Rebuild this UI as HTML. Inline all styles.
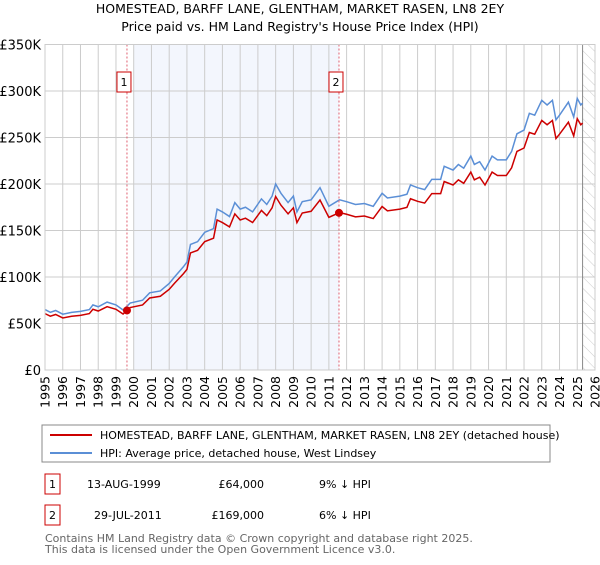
<!DOCTYPE html>
<html><head><meta charset="utf-8"><style>
body{margin:0;background:#fff;font-family:"Liberation Sans","DejaVu Sans",sans-serif;}
svg text{font-family:"DejaVu Sans","Liberation Sans",sans-serif;}
</style></head><body>
<svg id="c" width="600" height="560" viewBox="0 0 600 560">
<defs><pattern id="hatch" width="8" height="8" patternUnits="userSpaceOnUse" patternTransform="rotate(-45)"><line x1="0" y1="0" x2="0" y2="8" stroke="#ccc" stroke-width="1"/></pattern></defs>
<text x="300" y="13" text-anchor="middle" font-size="12.5">HOMESTEAD, BARFF LANE, GLENTHAM, MARKET RASEN, LN8 2EY</text>
<text x="300" y="31" text-anchor="middle" font-size="12.5">Price paid vs. HM Land Registry's House Price Index (HPI)</text>
<g id="plot"></g>
<rect x="42" y="425" width="508" height="37" fill="#fff" stroke="#888"/>
<line x1="50" y1="435" x2="92" y2="435" stroke="#cc0000" stroke-width="2"/>
<text x="100" y="439" font-size="11">HOMESTEAD, BARFF LANE, GLENTHAM, MARKET RASEN, LN8 2EY (detached house)</text>
<line x1="50" y1="453" x2="92" y2="453" stroke="#5b8fd6" stroke-width="2"/>
<text x="100" y="457" font-size="11">HPI: Average price, detached house, West Lindsey</text>
<g>
<rect x="45" y="474" width="15" height="20" fill="#fff" stroke="#cc0000"/>
<text x="52.5" y="488" text-anchor="middle" font-size="11">1</text>
<text x="87" y="488" font-size="11">13-AUG-1999</text>
<text x="264" y="488" text-anchor="end" font-size="11">£64,000</text>
<text x="319" y="488" font-size="11">9% ↓ HPI</text></g>
<g>
<rect x="45" y="505" width="15" height="20" fill="#fff" stroke="#cc0000"/>
<text x="52.5" y="519" text-anchor="middle" font-size="11">2</text>
<text x="94" y="519" font-size="11">29-JUL-2011</text>
<text x="264" y="519" text-anchor="end" font-size="11">£169,000</text>
<text x="319" y="519" font-size="11">6% ↓ HPI</text></g>
<text x="45" y="542" font-size="11" fill="#666">Contains HM Land Registry data © Crown copyright and database right 2025.</text>
<text x="45" y="553" font-size="11" fill="#666">This data is licensed under the Open Government Licence v3.0.</text>
</svg>
<script>
const hpiYears=[1995.0,1995.3,1995.6,1996.0,1996.5,1997.0,1997.5,1997.7,1998.0,1998.5,1999.0,1999.4,1999.8,2000.5,2000.9,2001.5,2002.0,2002.3,2002.8,2003.0,2003.2,2003.6,2004.0,2004.5,2004.7,2005.0,2005.4,2005.7,2006.0,2006.3,2006.7,2007.2,2007.5,2007.8,2008.0,2008.3,2008.7,2009.0,2009.2,2009.5,2010.0,2010.5,2011.0,2011.6,2012.0,2012.5,2013.0,2013.5,2014.0,2014.3,2015.0,2015.4,2015.6,2016.0,2016.4,2016.8,2017.3,2017.5,2018.0,2018.3,2018.6,2019.0,2019.2,2019.5,2019.8,2020.2,2020.5,2021.0,2021.3,2021.6,2022.0,2022.3,2022.6,2023.0,2023.3,2023.6,2023.8,2024.0,2024.5,2024.8,2025.0,2025.2,2025.3];
const hpiValues=[65,62,64,60,62,63,65,70,68,73,70,64.5,72,75,83,85,93,100,111,116,135,138,148,152,173,170,165,180,173,175,170,184,178,187,200,190,180,187,170,181,183,196,176,183,181,178,179,176,190,185,187,189,199,196,194,205,205,219,215,221,217,230,221,224,215,230,226,226,235,254,258,276,274,290,285,290,269,274,288,272,292,285,287];
const saleYears=[1999.62,2011.57];
const salePrices=[64,169];
const saleLabels=["1","2"];
const yTicks=[0,50,100,150,200,250,300,350];
const yTickLabels=["£0","£50K","£100K","£150K","£200K","£250K","£300K","£350K"];
const xTicks=[];for(let y=1995;y<=2026;y++)xTicks.push(y);

const X0=45,X1=595,Y0=370,Y1=44.5,NS="http://www.w3.org/2000/svg";
const xs=t=>X0+(t-1995)/(2026-1995)*(X1-X0);
const ys=v=>Y0-v/350*(Y0-Y1);
const g=document.getElementById('plot');
function mk(tag,attrs,parent){const e=document.createElementNS(NS,tag);for(const k in attrs)e.setAttribute(k,attrs[k]);(parent||g).appendChild(e);return e;}
function hpiAt(t){for(let i=1;i<hpiYears.length;i++){if(t<=hpiYears[i]){const a=hpiYears[i-1],b=hpiYears[i];return hpiValues[i-1]+(hpiValues[i]-hpiValues[i-1])*(t-a)/(b-a);}}return hpiValues[hpiValues.length-1];}

let e=mk('rect',{x:X0,y:Y1,width:X1-X0,height:Y0-Y1,fill:'#fff'});

e=mk('rect',{x:xs(2000),y:Y1,width:xs(saleYears[1])-xs(2000),height:Y0-Y1,fill:'#f3f6fd'});

e=mk('rect',{x:xs(2025.3),y:Y1,width:X1-xs(2025.3),height:Y0-Y1,fill:'url(#hatch)'});

yTicks.forEach((v,i)=>{
  let l=mk('line',{x1:X0,x2:X1,y1:ys(v),y2:ys(v),stroke:'#ccc'});
  
  let t=mk('text',{x:X0-4,y:ys(v)+5,'text-anchor':'end','font-size':'13'});t.textContent=yTickLabels[i];
  
});
xTicks.forEach(y=>{
  let l=mk('line',{x1:xs(y),x2:xs(y),y1:Y1,y2:Y0,stroke:'#ccc'});
  
  let t=mk('text',{x:0,y:0,'text-anchor':'end','font-size':'12.5',transform:`translate(${xs(y)+4.5},376) rotate(-90)`});t.textContent=y;
  
});
e=mk('line',{x1:xs(2025.3),x2:xs(2025.3),y1:Y1,y2:Y0,stroke:'#888'});

const h1=hpiAt(saleYears[0]),h2=hpiAt(saleYears[1]);
let bp=[],rp=[];
hpiYears.forEach((t,i)=>{const v=hpiValues[i];bp.push(xs(t)+','+ys(v));
  const r=t<saleYears[1]?v*salePrices[0]/h1:v*salePrices[1]/h2;rp.push(xs(t)+','+ys(r));});
e=mk('polyline',{points:bp.join(' '),fill:'none',stroke:'#5b8fd6','stroke-width':1.5});

e=mk('polyline',{points:rp.join(' '),fill:'none',stroke:'#cc0000','stroke-width':1.5});

saleYears.forEach((t,i)=>{
  let l=mk('line',{x1:xs(t),x2:xs(t),y1:Y1,y2:Y0,stroke:'#e06070','stroke-dasharray':'2,2'});
  
  let c=mk('circle',{cx:xs(t),cy:ys(salePrices[i]),r:4,fill:'#cc0000'});
  
  let b=mk('rect',{x:xs(t)-10,y:72,width:14,height:20,fill:'#fff',stroke:'#cc0000'});
  
  let tx=mk('text',{x:xs(t)-3,y:86,'text-anchor':'middle','font-size':'11'});tx.textContent=saleLabels[i];
  
});
e=mk('rect',{x:X0,y:Y1,width:X1-X0,height:Y0-Y1,fill:'none',stroke:'#ccc'});

</script>
</body></html>
